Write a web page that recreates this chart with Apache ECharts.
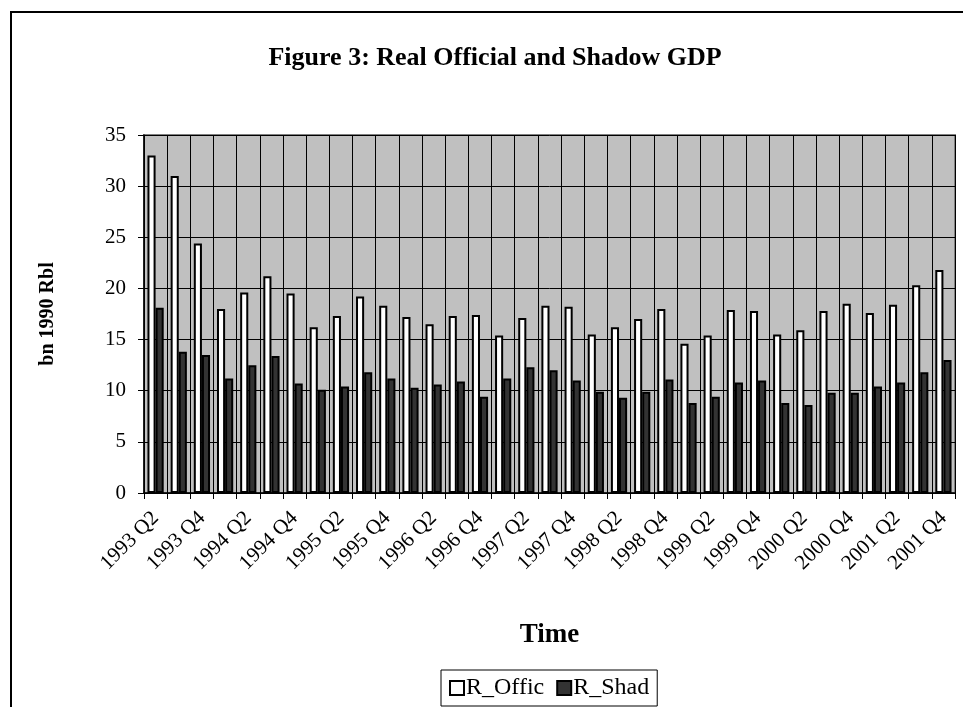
<!DOCTYPE html>
<html>
<head>
<meta charset="utf-8">
<script src="https://cdn.jsdelivr.net/npm/echarts@6/dist/echarts.min.js"></script>
<style>
  html, body { margin: 0; padding: 0; background: #fff; }
  #chart { width: 963px; height: 707px; }
</style>
</head>
<body>
<div id="chart"></div>
<script>
// Quarterly real official and shadow GDP, bn 1990 roubles
const quarters = [
  '1993 Q2','1993 Q3','1993 Q4',
  '1994 Q1','1994 Q2','1994 Q3','1994 Q4',
  '1995 Q1','1995 Q2','1995 Q3','1995 Q4',
  '1996 Q1','1996 Q2','1996 Q3','1996 Q4',
  '1997 Q1','1997 Q2','1997 Q3','1997 Q4',
  '1998 Q1','1998 Q2','1998 Q3','1998 Q4',
  '1999 Q1','1999 Q2','1999 Q3','1999 Q4',
  '2000 Q1','2000 Q2','2000 Q3','2000 Q4',
  '2001 Q1','2001 Q2','2001 Q3','2001 Q4'
];
const rOffic = [
  33.0, 31.0, 24.4,
  18.0, 19.6, 21.2, 19.5,
  16.2, 17.3, 19.2, 18.3,
  17.2, 16.5, 17.3, 17.4,
  15.4, 17.1, 18.3, 18.2,
  15.5, 16.2, 17.0, 18.0,
  14.6, 15.4, 17.9, 17.8,
  15.5, 15.9, 17.8, 18.5,
  17.6, 18.4, 20.3, 21.8
];
const rShad = [
  18.1, 13.8, 13.5,
  11.2, 12.5, 13.4, 10.7,
  10.1, 10.4, 11.8, 11.2,
  10.3, 10.6, 10.9, 9.4,
  11.2, 12.3, 12.0, 11.0,
  9.9, 9.3, 9.9, 11.1,
  8.8, 9.4, 10.8, 11.0,
  8.8, 8.6, 9.8, 9.8,
  10.4, 10.8, 11.8, 13.0
];
const yTicks = { min: 0, max: 35, step: 5 };

const serif = '"Liberation Serif", "DejaVu Serif", serif';
const chart = echarts.init(document.getElementById('chart'), null, { renderer: 'canvas' });

chart.setOption({
  backgroundColor: '#ffffff',
  animation: false,
  title: {
    text: 'Figure 3: Real Official and Shadow GDP',
    left: 490,
    top: 40,
    textAlign: 'center',
    textStyle: { fontFamily: serif, fontSize: 26, fontWeight: 'bold', color: '#000' }
  },
  graphic: [{
    // outer chart frame
    type: 'rect',
    shape: { x: 11, y: 12, width: 1000, height: 800 },
    style: { fill: 'none', stroke: '#000', lineWidth: 2 },
    silent: true
  }],
  legend: {
    left: 441,
    top: 670,
    padding: [6, 8, 6, 8],
    borderColor: '#000',
    borderWidth: 1,
    itemWidth: 14,
    itemHeight: 14,
    itemGap: 12,
    icon: 'rect',
    textStyle: { fontFamily: serif, fontSize: 24, color: '#000', padding: [0, 0, 0, -3] },
    data: [
      { name: 'R_Offic', itemStyle: { color: '#fff', borderColor: '#000', borderWidth: 2 } },
      { name: 'R_Shad', itemStyle: { color: '#333333', borderColor: '#000', borderWidth: 2 } }
    ]
  },
  grid: {
    left: 144, right: 8, top: 135, bottom: 214,
    show: true,
    backgroundColor: '#c0c0c0',
    borderColor: '#808080',
    borderWidth: 2
  },
  xAxis: {
    type: 'category',
    data: quarters,
    boundaryGap: true,
    name: 'Time',
    nameLocation: 'middle',
    nameGap: 129,
    nameTextStyle: { fontFamily: serif, fontSize: 27, fontWeight: 'bold', color: '#000' },
    axisLine: { show: true, lineStyle: { color: '#000', width: 1.5 } },
    axisTick: { show: true, interval: 0, length: 6, lineStyle: { color: '#000' } },
    axisLabel: {
      interval: 1,
      rotate: 45,
      margin: 22,
      fontFamily: serif,
      fontSize: 21,
      color: '#000'
    },
    splitLine: { show: true, interval: 0, lineStyle: { color: '#000', width: 1 } }
  },
  yAxis: {
    type: 'value',
    min: yTicks.min,
    max: yTicks.max,
    interval: yTicks.step,
    name: 'bn 1990 Rbl',
    nameLocation: 'middle',
    nameRotate: 90,
    nameGap: 86,
    nameTextStyle: { fontFamily: serif, fontSize: 20, fontWeight: 'bold', color: '#000' },
    axisLine: { show: true, lineStyle: { color: '#000', width: 1.5 } },
    axisTick: { show: true, length: 6, lineStyle: { color: '#000' } },
    axisLabel: { margin: 18, fontFamily: serif, fontSize: 21, color: '#000' },
    splitLine: { show: true, lineStyle: { color: '#000', width: 1 } }
  },
  series: [
    {
      name: 'R_Offic',
      type: 'bar',
      data: rOffic,
      barGap: '0%',
      barCategoryGap: '30%',
      itemStyle: { color: '#ffffff', borderColor: '#000', borderWidth: 2 }
    },
    {
      name: 'R_Shad',
      type: 'bar',
      data: rShad,
      barGap: '0%',
      barCategoryGap: '30%',
      itemStyle: { color: '#333333', borderColor: '#000', borderWidth: 2 }
    }
  ]
});
</script>
</body>
</html>
